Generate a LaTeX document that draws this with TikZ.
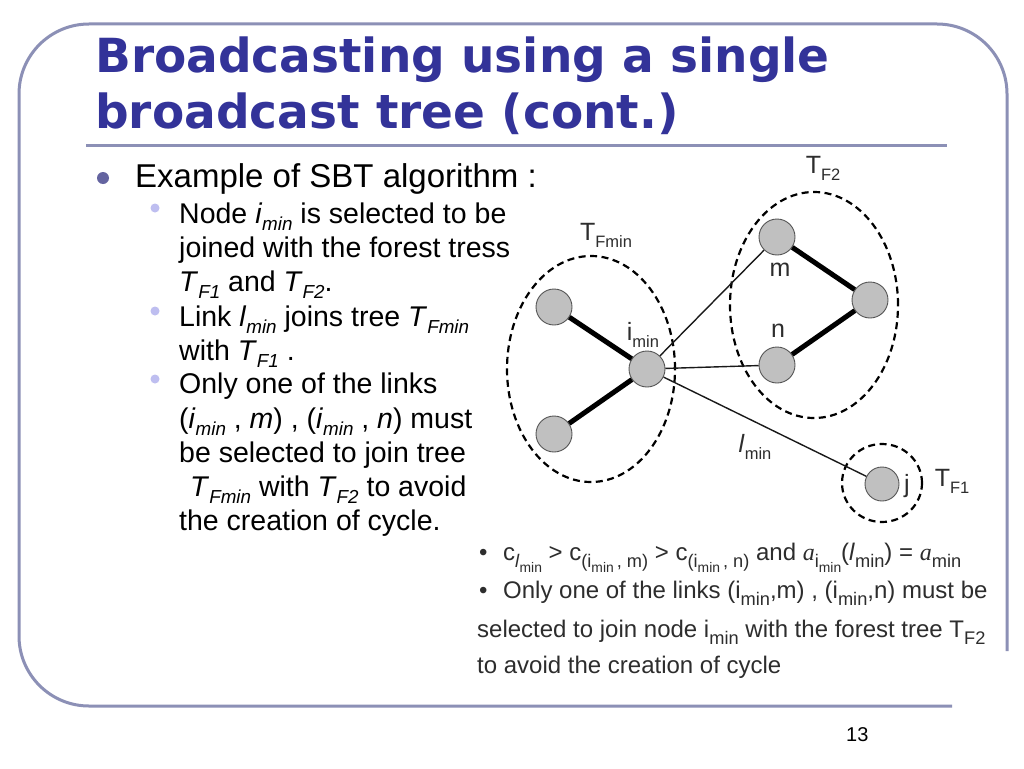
\documentclass[tikz,border=0pt]{standalone}
\usepackage{fontspec}
\usepackage{graphicx}
\setmainfont{Liberation Sans}
\newfontfamily\titlefont{DejaVu Sans}
\newfontfamily\seriffont{Liberation Serif}
\usetikzlibrary{shapes.geometric}
\definecolor{framec}{RGB}{140,144,182}
\definecolor{titlec}{RGB}{51,51,153}
\definecolor{bulleta}{RGB}{100,100,160}
\definecolor{bulletb}{RGB}{190,190,240}
\definecolor{vtxfill}{RGB}{192,192,192}
\definecolor{vtxdraw}{RGB}{85,85,85}
\definecolor{capc}{RGB}{45,45,45}
\newcommand{\lo}[1]{\raisebox{-0.28em}{\scalebox{0.66}{#1}}}
\newcommand{\loc}[1]{\raisebox{-0.3em}{\scalebox{0.76}{#1}}}
\begin{document}
\begin{tikzpicture}[x=1pt,y=-1pt,
 txt/.style={inner sep=0pt, anchor=base west},
 ttl/.style={txt, font=\titlefont\bfseries\fontsize{47}{56}\selectfont, text=titlec},
 lvA/.style={txt, font=\fontsize{33}{40}\selectfont},
 lvB/.style={txt, font=\fontsize{28.5}{34}\selectfont},
 dotA/.style={circle, fill=bulleta, inner sep=0pt, minimum size=12},
 dotB/.style={circle, fill=bulletb, inner sep=0pt, minimum size=9},
 vtx/.style={circle, fill=vtxfill, draw=vtxdraw, line width=0.9pt, minimum size=36, inner sep=0pt},
 heavy/.style={line width=5pt, black},
 light/.style={line width=1.4pt, black!90},
 oval/.style={draw=black, dash pattern=on 7pt off 4.5pt, line width=2.2pt, ellipse, inner sep=0pt},
 lab/.style={inner sep=0pt, font=\fontsize{25}{30}\selectfont, text=capc},
 captxt/.style={txt, font=\fontsize{24}{29}\selectfont, text=capc},
]
\useasboundingbox (0,0) rectangle (1024,768);
\fill[white] (0,0) rectangle (1024,768);

% frame
\draw[framec, line width=3pt, rounded corners=70] (1007,651) -- (1007,24) -- (19,24) -- (19,706) -- (952,706);
\draw[framec, line width=3pt] (86,145) -- (947,145);

% title
\node[ttl] (t1) at (95,72) {Broadcasting using a single};
\node[ttl] (t2) at (95,128) {broadcast tree (cont.)};

% body text
\node[dotA] (ba) at (103,178) {};
\node[lvA] (l0) at (135,187) {Example of SBT algorithm :};
\node[dotB] (bb1) at (155,208) {};
\node[dotB] (bb2) at (155,311) {};
\node[dotB] (bb3) at (155,379) {};
\node[lvB] (l1) at (179,223) {Node \textit{i}\lo{\textit{min}} is selected to be};
\node[lvB] (l2) at (179,257) {joined with the forest tress};
\node[lvB] (l3) at (179,291) {\textit{T}\lo{\textit{F1}} and \textit{T}\lo{\textit{F2}}.};
\node[lvB] (l4) at (179,326) {Link \textit{l}\lo{\textit{min}} joins tree \textit{T}\lo{\textit{Fmin}}};
\node[lvB] (l5) at (179,360) {with \textit{T}\lo{\textit{F1}} .};
\node[lvB] (l6) at (179,393) {Only one of the links};
\node[lvB] (l7) at (179,428) {(\textit{i}\lo{\textit{min}} , \textit{m}) , (\textit{i}\lo{\textit{min}} , \textit{n}) must};
\node[lvB] (l8) at (179,462) {be selected to join tree};
\node[lvB] (l9) at (190,496) {\textit{T}\lo{\textit{Fmin}} with \textit{T}\lo{\textit{F2}} to avoid};
\node[lvB] (l10) at (179,530) {the creation of cycle.};

% diagram: trees
\node[oval, minimum width=168, minimum height=226] (tfmin) at (591,369) {};
\node[oval, minimum width=168, minimum height=226] (tf2) at (814,305) {};
\node[oval, minimum width=80, minimum height=78] (tf1) at (882,483) {};

% vertices
\node[vtx] (a) at (554,307) {};
\node[vtx] (imin) at (647,369) {};
\node[vtx] (b) at (554,434) {};
\node[vtx] (m) at (777,237) {};
\node[vtx] (r) at (870,300) {};
\node[vtx] (n) at (777,365) {};
\node[vtx, minimum size=34] (j) at (882,484) {};

% edges
\draw[heavy] (a) -- (imin);
\draw[heavy] (b) -- (imin);
\draw[heavy] (m) -- (r);
\draw[heavy] (n) -- (r);
\draw[light] (imin) -- (m);
\draw[light] (imin) -- (n);
\draw[light] (imin) -- (j);

% labels
\node[lab] (limin) at (643,335) {i\lo{min}};
\node[lab] (lm) at (780,270) {m};
\node[lab] (ln) at (778,331) {n};
\node[lab] (lj) at (907,486) {j};
\node[lab] (llmin) at (755,447) {\textit{l}\lo{min}};
\node[lab] (ltf1) at (952,481) {T\lo{F1}};
\node[lab] (ltf2) at (823,168) {T\lo{F2}};
\node[lab] (ltfmin) at (606,235) {T\lo{Fmin}};

% caption
\begin{scope}
\clip (470,530) rectangle (990,580);
\node[captxt] (cd1) at (479,560) {•};
\node[captxt] (c1) at (503,560) {c\loc{\textit{l}\loc{min}} > c\loc{(i\loc{min}\,, m)} > c\loc{(i\loc{min}\,, n)} and {\seriffont\itshape a}\loc{i\loc{min}}(\textit{l}\loc{min}) = {\seriffont\itshape a}\loc{min}};
\end{scope}
\node[captxt] (cd2) at (479,598) {•};
\node[captxt] (c2) at (503,598) {Only one of the links (i\loc{min},m) , (i\loc{min},n) must be};
\node[captxt] (c3) at (477,637) {selected to join node i\loc{min} with the forest tree T\loc{F2}};
\node[captxt] (c4) at (477,673) {to avoid the creation of cycle};

% page number
\node[txt, font=\fontsize{20}{24}\selectfont] (pg) at (846,741) {13};
\end{tikzpicture}
\end{document}
